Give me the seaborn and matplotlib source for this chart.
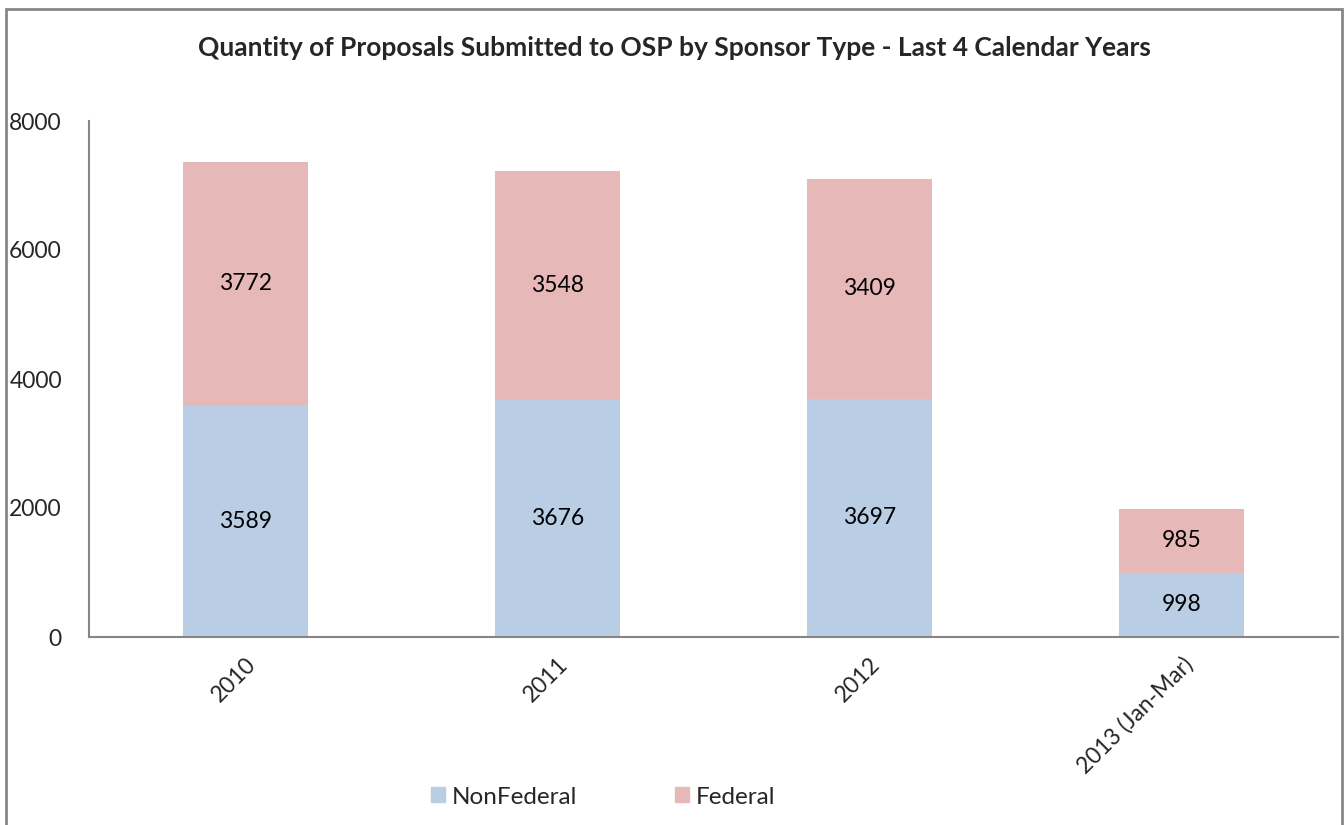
import matplotlib
matplotlib.use('Agg')
import matplotlib.pyplot as plt
from matplotlib.patches import Rectangle, Patch
import pandas as pd
import seaborn as sns

sns.set_style('white')
plt.rcParams['font.family'] = ['Lato', 'DejaVu Sans']

# =====
# DATA
# =====
years = ['2010', '2011', '2012', '2013 (Jan-Mar)']
nonfederal = [3589, 3676, 3697, 998]
federal = [3772, 3548, 3409, 985]
totals = [a + b for a, b in zip(nonfederal, federal)]

blue = '#B9CDE5'
pink = '#E6B9B8'
gray = '#868686'

df = pd.DataFrame({'year': years, 'NonFederal': nonfederal,
                   'Federal': federal, 'total': totals})

fig = plt.figure(figsize=(13.44, 8.25), dpi=100)
ax = fig.add_axes([89 / 1344, 1 - 637 / 825, 1249 / 1344, 516 / 825])

# stacked bars: draw totals (pink) then nonfederal (blue) on top
sns.barplot(data=df, x='year', y='total', color=pink, width=0.4,
            saturation=1, ax=ax, linewidth=0)
sns.barplot(data=df, x='year', y='NonFederal', color=blue, width=0.4,
            saturation=1, ax=ax, linewidth=0)

for i in range(len(years)):
    ax.text(i, nonfederal[i] / 2, str(nonfederal[i]), ha='center',
            va='center', fontsize=16.5, color='black')
    ax.text(i, nonfederal[i] + federal[i] / 2, str(federal[i]), ha='center',
            va='center', fontsize=16.5, color='black')

ax.set_ylim(0, 8000)
ax.set_yticks([0, 2000, 4000, 6000, 8000])
ax.set_xlim(-0.5, 3.5)
ax.set_xlabel('')
ax.set_ylabel('')
for side in ['top', 'right']:
    ax.spines[side].set_visible(False)
for side in ['left', 'bottom']:
    ax.spines[side].set_color(gray)
    ax.spines[side].set_linewidth(1.5)
ax.tick_params(axis='both', length=0, labelsize=16.5)
ax.tick_params(axis='y', pad=19.5)
ax.set_xticks(range(len(years)))
ax.set_xticklabels(years, rotation=45, ha='right', rotation_mode='anchor')
ax.tick_params(axis='x', pad=12)

fig.text(674 / 1344, 1 - 48 / 825,
         'Quantity of Proposals Submitted to OSP by Sponsor Type - Last 4 Calendar Years',
         ha='center', va='center', fontsize=19, fontweight='bold')

handles = [Patch(color=blue, label='NonFederal'),
           Patch(color=pink, label='Federal')]
fig.legend(handles=handles, loc='center', ncol=2,
           bbox_to_anchor=(603 / 1344, 1 - 797 / 825), frameon=False,
           fontsize=17.5, handlelength=0.58, handleheight=0.58,
           handletextpad=0.3, columnspacing=4.0)

# chart border
fig.patches.append(Rectangle((6 / 1344, -0.05), 1336 / 1344, 1.05 - 9 / 825,
                             transform=fig.transFigure, fill=False,
                             edgecolor=gray, linewidth=2))

fig.savefig('out.png', dpi=100)
plt.close()
